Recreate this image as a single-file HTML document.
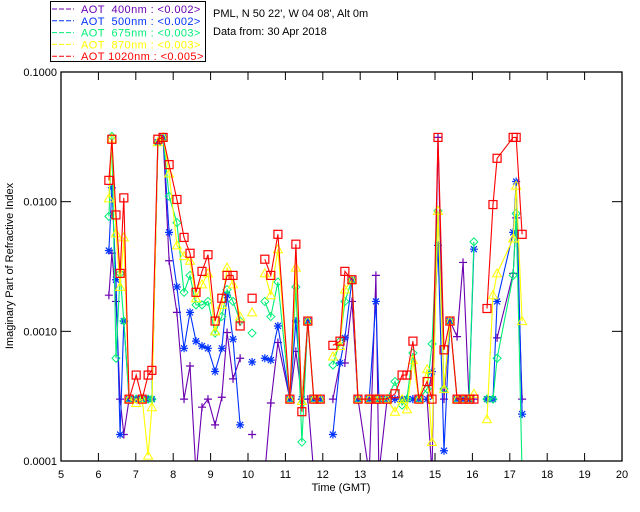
<!DOCTYPE html>
<html><head><meta charset="utf-8"><style>
body{margin:0;background:#fff;}
svg{display:block;font-family:"Liberation Sans",sans-serif;}
</style></head><body>
<svg id="chart" width="640" height="512" xmlns="http://www.w3.org/2000/svg">
<rect x="0" y="0" width="640" height="512" fill="#fff"/>
<defs><clipPath id="pc"><rect x="61" y="72" width="561" height="389"/></clipPath></defs>
<g id="legend">
<rect x="50.5" y="1.5" width="155" height="60" fill="none" stroke="#000" stroke-width="1"/>
</g>
<text x="213" y="17" font-size="11" fill="#000">PML, N 50 22', W 04 08', Alt 0m</text>
<text x="213" y="35" font-size="11" fill="#000">Data from: 30 Apr 2018</text>
<g id="series" clip-path="url(#pc)"></g>
<g id="axes"></g>
</svg>
<script>
const times=[6.28,6.36,6.47,6.58,6.68,6.82,7.01,7.17,7.33,7.43,7.59,7.73,7.89,8.10,8.29,8.45,8.61,8.77,8.93,9.12,9.30,9.44,9.60,9.79,10.11,10.45,10.61,10.80,11.12,11.28,11.44,11.60,11.76,11.93,12.27,12.46,12.59,12.78,12.94,13.24,13.42,13.50,13.72,13.93,14.12,14.25,14.41,14.57,14.79,14.92,15.08,15.24,15.40,15.59,15.75,15.91,16.04,16.39,16.55,16.66,17.09,17.17,17.33];
const breakAfter=[23,24,33,56];
const aot400=[.0019,.0040,.0017,.0003,.00016,.0003,.0003,.0003,.0003,.0003,.0287,.0313,.0035,.0014,.0003,.00054,.00008,.00026,.00030,.00019,.00031,.00098,.00043,.00062,.00016,.00008,.00028,.00082,.0003,.00070,.0003,.0003,.00008,null,.0003,.00057,.00057,.0017,.0003,.00008,.0027,.00008,.0003,.0003,.0003,.0003,.0003,.0003,.0003,.00008,.0313,.0003,.0012,.00091,.0034,.0003,.0003,null,null,.00089,.0028,.0075,.0003];
const aot500=[.0042,.0128,.0025,.00016,.0012,.0003,.0003,.0003,.0003,.0003,.0287,.0313,.0058,.0022,.00074,.0014,.00084,.00077,.00074,.00049,.00074,.0019,.00087,.00019,.00058,.00062,.00060,.0011,.0003,.0012,.0003,.0012,.0003,.0003,.00016,.00057,.00089,.0025,.0003,.0003,.0017,.0003,.0003,.0003,.0003,.0003,.0003,.0003,.0003,.00049,.0046,.00012,.0012,.0003,.0003,.0003,.0043,.0003,.0003,.0017,.0058,.0143,.00023];
const aot675=[.0077,.0319,.00062,.0028,.0012,.0003,.0003,.0003,.0003,.0003,.0287,.0313,.0110,.0069,.0020,.0027,.0016,.0016,.0017,.00097,.0013,.0021,.0017,.0012,.00097,.0017,.0013,.0024,.0003,.0022,.00014,.0012,.0003,.0003,.00055,.00084,.0017,.0025,.0003,.0003,.0003,.0003,.0003,.00041,.00027,.0003,.00068,.0003,.00036,.00080,.0085,.00036,.0012,.0003,.0003,.0003,.0049,.0003,.0003,.00062,.0027,.0081,.00008];
const aot870=[.0106,.0308,.0057,.0022,.0053,.0003,.00028,.0003,.00011,.00026,.0287,.0313,.0165,.0046,.0038,.0035,.0018,.0023,.0028,.0010,.0016,.0031,.0023,.0013,.0014,.0028,.0019,.0043,.0003,.0031,.00029,.0012,.0003,.0003,.00064,.00077,.0021,.0025,.0003,.0003,.0003,.0003,.0003,.00024,.0003,.00025,.0006,.0003,.00051,.00014,.0085,.00036,.0012,.0003,.0003,.0003,.00033,.00021,.0019,.0028,.0052,.0133,.0012];
const aot1020=[.0146,.0303,.0079,.0028,.0107,.0003,.00046,.0003,.00046,.00050,.0303,.0313,.0193,.0104,.0053,.0040,.0020,.0029,.0039,.0012,.0018,.0027,.0027,.0011,.0018,.0036,.0027,.0056,.0003,.0047,.00024,.0012,.0003,.0003,.00078,.00084,.0029,.0025,.0003,.0003,.0003,.0003,.0003,.00033,.00046,.00046,.00084,.0003,.00041,.0003,.0313,.00072,.0012,.0003,.0003,.0003,.0003,.0015,.0095,.0216,.0313,.0313,.0056];
const xTicks=[5,6,7,8,9,10,11,12,13,14,15,16,17,18,19,20];
const yTicks=[0.0001,0.001,0.01,0.1];
const yTickLabels=["0.0001","0.0010","0.0100","0.1000"];
const legendLabels=["AOT  400nm : <0.002>","AOT  500nm : <0.002>","AOT  675nm : <0.003>","AOT  870nm : <0.003>","AOT 1020nm : <0.005>"];

const NS="http://www.w3.org/2000/svg";
const L=61,R=622,T=72,B=461;
function xs(t){return L+(t-5)/15*(R-L);}
function ys(v){return B-(Math.log10(v)+4)/3*(B-T);}
function mk(tag,at,parent){const e=document.createElementNS(NS,tag);for(const k in at)e.setAttribute(k,at[k]);parent.appendChild(e);return e;}

const colors=["#6a00b0","#0033ff","#00ee77","#ffff00","#ff0000"];
const series=[aot400,aot500,aot675,aot870,aot1020];
const names=["aot-400nm","aot-500nm","aot-675nm","aot-870nm","aot-1020nm"];
const sg=document.getElementById('series');
function marker(k,x,y,c,g){
  if(k==0){mk('path',{d:`M${x-4} ${y}H${x+4}M${x} ${y-4}V${y+4}`,stroke:c,'stroke-width':1.2,fill:'none'},g);}
  else if(k==1){mk('path',{d:`M${x-4} ${y}H${x+4}M${x} ${y-4}V${y+4}M${x-3} ${y-3}L${x+3} ${y+3}M${x-3} ${y+3}L${x+3} ${y-3}`,stroke:c,'stroke-width':1.2,fill:'none'},g);}
  else if(k==2){mk('path',{d:`M${x} ${y-4}L${x+4} ${y}L${x} ${y+4}L${x-4} ${y}Z`,stroke:c,'stroke-width':1,fill:'none'},g);}
  else if(k==3){mk('path',{d:`M${x} ${y-4.5}L${x+4.5} ${y+3.5}L${x-4.5} ${y+3.5}Z`,stroke:c,'stroke-width':1,fill:'none'},g);}
  else {mk('rect',{x:x-4,y:y-4,width:8,height:8,stroke:c,'stroke-width':1.2,fill:'none'},g);}
}
series.forEach((vals,k)=>{
  const g=mk('g',{},sg);
  
  
  let d="",pen=false;
  for(let i=0;i<times.length;i++){
    const v=vals[i];
    if(v==null){pen=false;continue;}
    const x=xs(times[i]).toFixed(1),y=ys(v).toFixed(1);
    d+=(pen?"L":"M")+x+" "+y;
    pen=!breakAfter.includes(i);
  }
  mk('path',{d:d,stroke:colors[k],'stroke-width':1.1,fill:'none'},g);
  for(let i=0;i<times.length;i++){
    const v=vals[i]; if(v==null) continue;
    const m=mk('g',{},g);
    
    
    marker(k,xs(times[i]),ys(v),colors[k],m);
  }
});

const ax=document.getElementById('axes');
mk('rect',{x:L,y:T,width:R-L,height:B-T,fill:'none',stroke:'#000','stroke-width':1.3},ax);
xTicks.forEach(t=>{
  const x=xs(t);
  mk('line',{x1:x,x2:x,y1:B,y2:B-8,stroke:'#000'},ax);
  mk('line',{x1:x,x2:x,y1:T,y2:T+8,stroke:'#000'},ax);
  const tx=mk('text',{x:x,y:478,'font-size':11,'text-anchor':'middle'},ax);
  tx.textContent=t;
  
  
});
yTicks.forEach((v,i)=>{
  const y=ys(v);
  mk('line',{x1:L,x2:L+10,y1:y,y2:y,stroke:'#000'},ax);
  mk('line',{x1:R,x2:R-10,y1:y,y2:y,stroke:'#000'},ax);
  const tx=mk('text',{x:57,y:y+4,'font-size':11,'text-anchor':'end'},ax);
  tx.textContent=yTickLabels[i];
  
  
});
const xt=mk('text',{x:341,y:491,'font-size':11,'text-anchor':'middle'},ax);
xt.textContent="Time (GMT)";


const yt=mk('text',{x:13,y:266,'font-size':11,'text-anchor':'middle',transform:'rotate(-90 13 266)'},ax);
yt.textContent="Imaginary Part of Refractive Index";



const lg=document.getElementById('legend');
legendLabels.forEach((s,i)=>{
  const y=9+i*11.8;
  const e=mk('g',{},lg);
  
  
  mk('line',{x1:52,x2:74,y1:y,y2:y,stroke:colors[i],'stroke-width':1,'stroke-dasharray':'5 2'},e);
  const t=mk('text',{x:81,y:y+4,'font-size':11,fill:colors[i],'letter-spacing':'0.4'},e);
  t.setAttribute('style','white-space:pre');
  t.textContent=s;
});
</script>
</body></html>
